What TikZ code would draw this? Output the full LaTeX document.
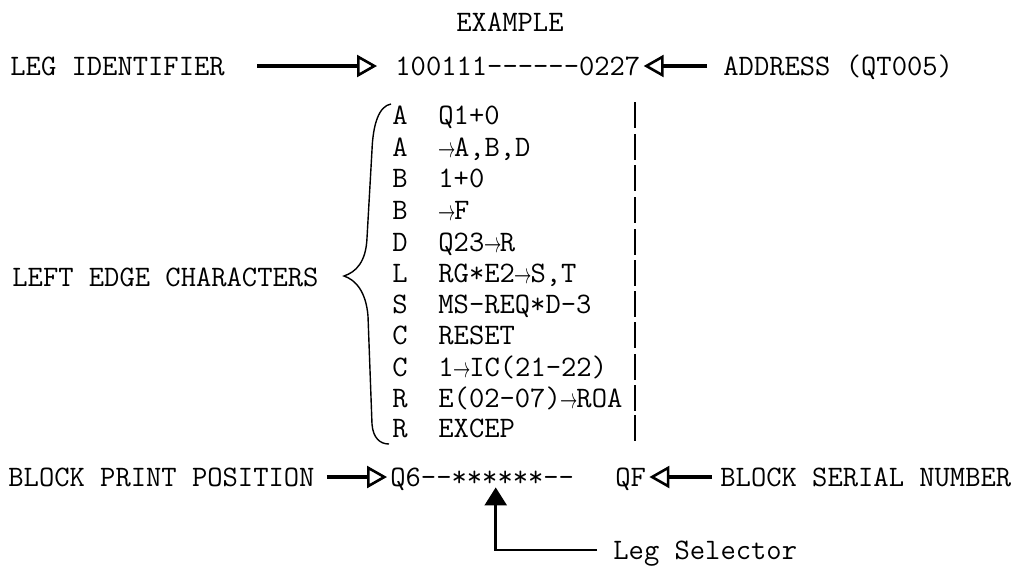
\documentclass[tikz,border=0pt]{standalone}
\usepackage{fontspec}
\usepackage{amsmath}
\usepackage{tikz}
\usetikzlibrary{arrows.meta}

% typed arrow, one character wide
\newcommand{\tarr}{\makebox[0.525em][l]{\raisebox{-0.05em}{\scalebox{0.6}[1]{$\rightarrow$}}}}

\tikzset{
  typed/.style={inner sep=0pt, anchor=base west, text height=9pt, text depth=0pt,
    font=\ttfamily\fontsize{14.86}{18}\selectfont},
  fatarrow/.style={line width=2pt, -{Triangle[open, length=10pt, width=11pt, line width=1.3pt]}},
  selarrow/.style={line width=1.3pt, -{Triangle[length=9pt, width=11pt]}},
  bar/.style={line width=0.8pt},
  brace/.style={line width=0.7pt}
}

\begin{document}
\begin{tikzpicture}[x=0.5pt, y=-0.5pt]
  \useasboundingbox (0,0) rectangle (1029,569);
  \node[typed, anchor=base] (title) at (510,31) {EXAMPLE};

  % leg identifier line
  \node[typed] (legid) at (10,75) {LEG IDENTIFIER};
  \node[typed] (code) at (395,75) {100111------0227};
  \node[typed] (addr) at (723,75) {ADDRESS (QT005)};
  \draw[fatarrow, shorten <=16pt, shorten >=9pt] (legid.east) -- (code.west);
  \draw[fatarrow, shorten <=8pt, shorten >=1.5pt] (addr.west) -- (code.east);

  % left edge characters and their instructions
  \node[typed] (k1) at (392,124) {A};   \node[typed] (v1) at (438,124) {Q1+0};
  \node[typed] (k2) at (392,156) {A};   \node[typed] (v2) at (438,156) {\tarr A,B,D};
  \node[typed] (k3) at (392,187) {B};   \node[typed] (v3) at (438,187) {1+0};
  \node[typed] (k4) at (392,219) {B};   \node[typed] (v4) at (438,219) {\tarr F};
  \node[typed] (k5) at (392,251) {D};   \node[typed] (v5) at (438,251) {Q23\tarr R};
  \node[typed] (k6) at (392,282) {L};   \node[typed] (v6) at (438,282) {RG*E2\tarr S,T};
  \node[typed] (k7) at (392,313) {S};   \node[typed] (v7) at (438,313) {MS-REQ*D-3};
  \node[typed] (k8) at (392,344) {C};   \node[typed] (v8) at (438,344) {RESET};
  \node[typed] (k9) at (392,376) {C};   \node[typed] (v9) at (438,376) {1\tarr IC(21-22)};
  \node[typed] (k10) at (392,407) {R};  \node[typed] (v10) at (438,407) {E(02-07)\tarr ROA};
  \node[typed] (k11) at (392,437) {R};  \node[typed] (v11) at (438,437) {EXCEP};

  % right margin bar
  \foreach \y in {115,147,178,210,242,273,304,335,367,398,428}
    \draw[bar] (635,\y-13) -- (635,\y+13);

  % brace
  \node[typed] (edge) at (12,286) {LEFT EDGE CHARACTERS};
  \draw[brace] (391,104) .. controls (379,106) and (373,124) .. (372,150)
    -- (367,238) .. controls (366,262) and (356,272) .. (344,276)
    .. controls (356,280) and (366,292) .. (368,316)
    -- (372,424) .. controls (373,438) and (380,444) .. (389,444);

  % block line
  \node[typed] (blockpos) at (8,486) {BLOCK PRINT POSITION};
  \node[typed] (posval) at (390,486) {Q6--******--};
  \node[typed] (qf) at (615,486) {QF};
  \node[typed] (serial) at (720,486) {BLOCK SERIAL NUMBER};
  \draw[fatarrow, shorten <=6pt, shorten >=1.5pt] (blockpos.east) -- (posval.west);
  \draw[fatarrow, shorten <=4pt, shorten >=1.5pt] (serial.west) -- (qf.east);

  % leg selector
  \node[typed] (legsel) at (613,559) {Leg Selector};
  \draw[selarrow] ([xshift=-8pt]legsel.west) -| ([xshift=6.75pt,yshift=-0.5pt]posval.south);
\end{tikzpicture}
\end{document}
